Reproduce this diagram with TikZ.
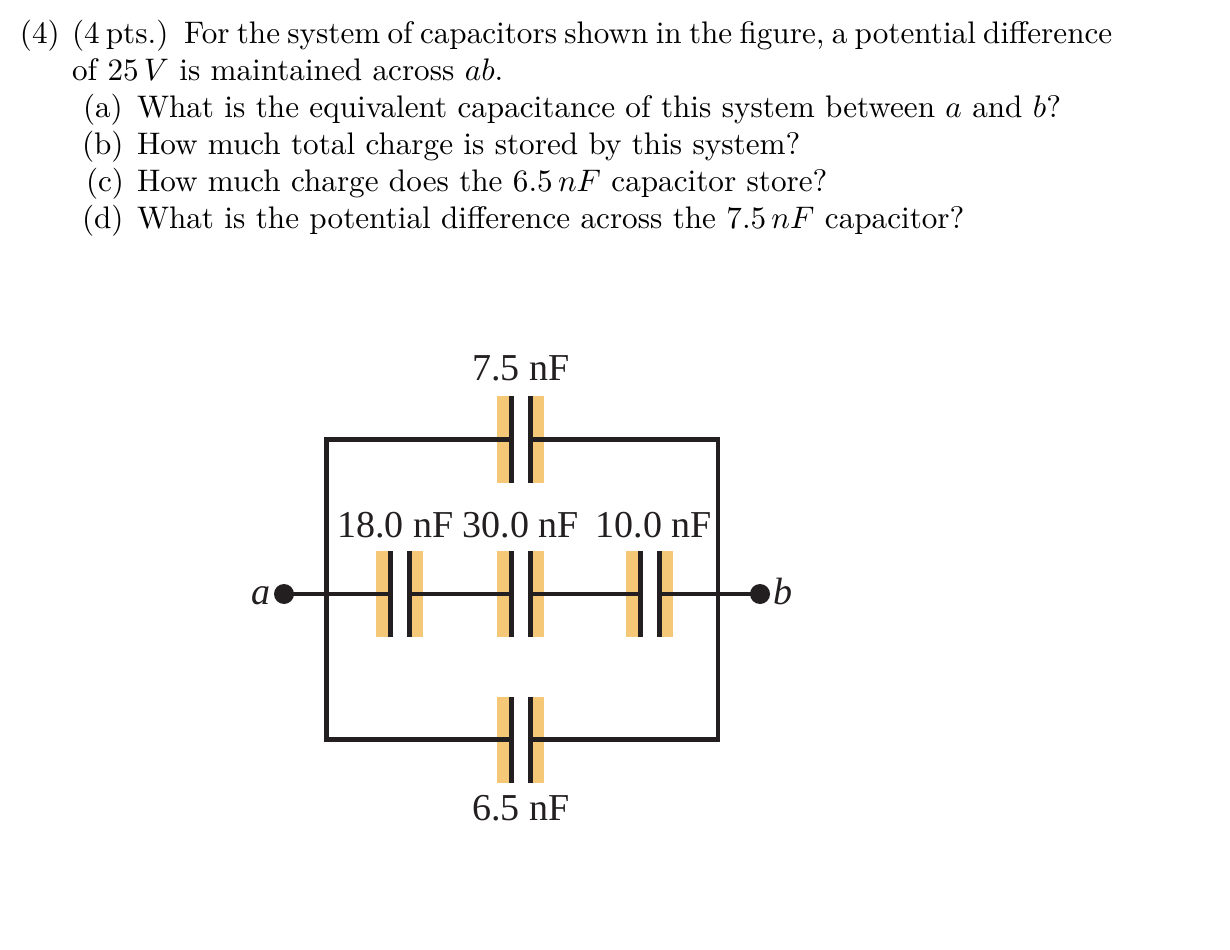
\documentclass[tikz,border=0pt]{standalone}
\usepackage{fontspec}
\newfontfamily\labelfont{Liberation Serif}
\definecolor{plateorange}{HTML}{F5C878}
\definecolor{wireblack}{HTML}{231F20}
\newlength{\pxu}
\setlength{\pxu}{0.3208pt}
\tikzset{
  x=\pxu, y=-\pxu,
  wire/.style={draw=wireblack, line width=4.3\pxu, miter limit=10},
  prose/.style={anchor=base west, inner sep=0pt, outer sep=0pt, text=black},
  valuelabel/.style={anchor=base, inner sep=0pt, outer sep=0pt, text=wireblack,
    font=\labelfont\fontsize{12.2pt}{15pt}\selectfont},
  endlabel/.style={anchor=base, inner sep=0pt, outer sep=0pt, text=wireblack,
    font=\labelfont\itshape\fontsize{12.2pt}{15pt}\selectfont},
  plate/.style={fill=wireblack, draw=none, inner sep=0pt, outer sep=0pt,
    minimum width=5\pxu, minimum height=86\pxu},
  backing/.style={fill=plateorange, draw=none, inner sep=0pt, outer sep=0pt,
    minimum width=14\pxu, minimum height=86\pxu},
  terminal/.style={circle, fill=wireblack, draw=none, inner sep=0pt, outer sep=0pt,
    minimum size=20\pxu}
}
\newcommand{\capacitor}[3]{% name, centre x, centre y
  \node[backing] at (#2-16.5,#3) {};
  \node[backing] at (#2+16.5,#3) {};
  \node[plate] (#1l) at (#2-9.5,#3) {};
  \node[plate] (#1r) at (#2+9.5,#3) {};
}
\begin{document}
\begin{tikzpicture}
\useasboundingbox (0,0) rectangle (1230,950);
\node[prose] (line1a) at (20,43.7) {(4)};
\node[prose] (line1b) at (72,43.7) {(4\hspace{0.2em}pts.)};
\node[prose] (line1c) at (184,43.7) {\spaceskip=0.233em For the system of capacitors shown in the figure, a potential difference};
\node[prose] (line2) at (72,80.7) {of 25\,$V$ is maintained across $ab$.};
\node[prose] (qal) at (83,117.7) {(a)};
\node[prose] (qa) at (137,117.7) {What is the equivalent capacitance of this system between $a$ and $b$?};
\node[prose] (qbl) at (82,154.7) {(b)};
\node[prose] (qb) at (137,154.7) {How much total charge is stored by this system?};
\node[prose] (qcl) at (86,191.7) {(c)};
\node[prose] (qc) at (137,191.7) {How much charge does the 6.5\,$nF$ capacitor store?};
\node[prose] (qdl) at (82,228.7) {(d)};
\node[prose] (qd) at (137,228.7) {What is the potential difference across the 7.5\,$nF$ capacitor?};

\capacitor{t}{520.5}{439.5}
\capacitor{m}{399.5}{594}
\capacitor{c}{520.5}{594}
\capacitor{r}{649.5}{594}
\capacitor{u}{520.5}{739.5}

\coordinate (jl) at (326.5,593.5);
\coordinate (jr) at (718,593.5);
\node[terminal] (a) at (284,594) {};
\node[terminal] (b) at (760,594) {};

\draw[wire] (tl.west) -| (jl) |- (ul.west);
\draw[wire] (tr.east) -| (jr) |- (ur.east);
\draw[wire] (a.center) -- (ml.west);
\draw[wire] (mr.east) -- (cl.west);
\draw[wire] (cr.east) -- (rl.west);
\draw[wire] (rr.east) -- (b.center);

\node[valuelabel] (v1) at (521,381) {7.5 nF};
\node[valuelabel] (v2) at (395.5,537) {18.0 nF};
\node[valuelabel] (v3) at (521,537) {30.0 nF};
\node[valuelabel] (v4) at (654,537) {10.0 nF};
\node[valuelabel] (v5) at (521,820) {6.5 nF};
\node[endlabel] (la) at (261,604) {a};
\node[endlabel] (lb) at (783,604) {b};
\end{tikzpicture}
\end{document}
